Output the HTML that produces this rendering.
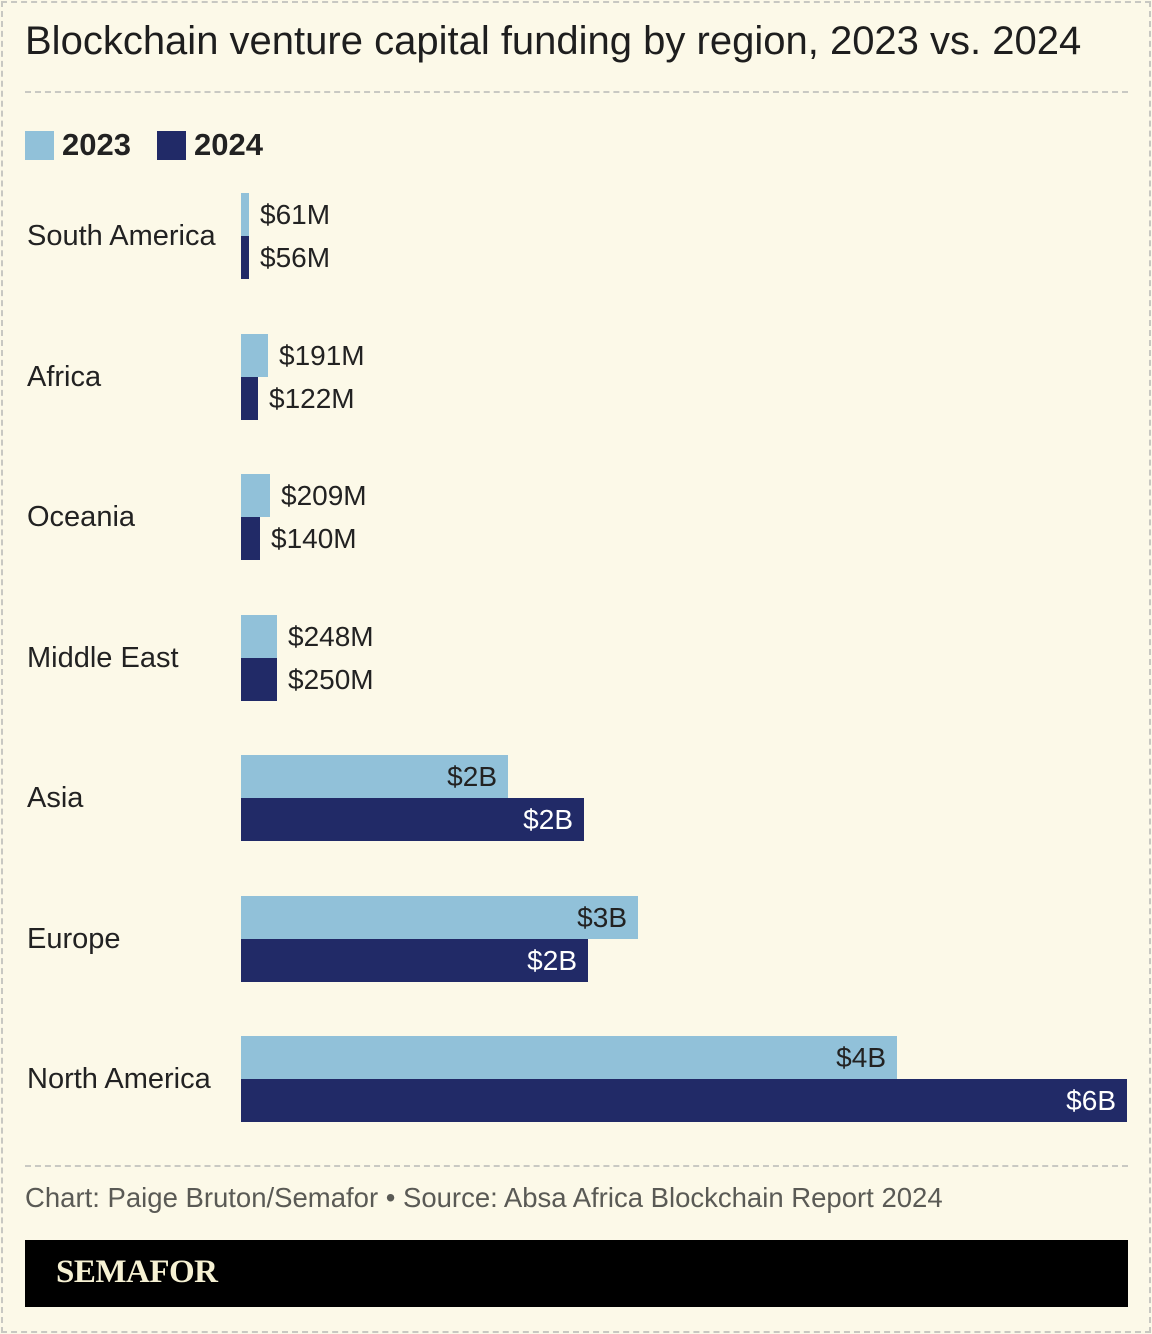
<!DOCTYPE html>
<html><head><meta charset="utf-8"><style>
*{margin:0;padding:0;box-sizing:border-box}
body{width:1152px;height:1334px;background:#fcf9e8;position:relative;overflow:hidden;font-family:"Liberation Sans",sans-serif;color:#222}
.border{position:absolute;left:1px;top:1px;width:1150px;height:1332px;border:2px dashed #c8c8c2}
.t{position:absolute;white-space:nowrap}
.hr{position:absolute;left:25px;width:1103px;border-top:2px dashed #c9c9c3}
.bar{position:absolute;left:241px;height:43px}
.a{background:#91c1d9}.b{background:#212a67}
.lab{position:absolute;font-size:28px;line-height:43px;white-space:nowrap}
.reg{position:absolute;left:27px;font-size:29px;line-height:40px;color:#222}
</style></head><body>
<div class="border"></div>
<div class="t" style="left:25px;top:18px;font-size:40px;line-height:46px;color:#1e1e1e">Blockchain venture capital funding by region, 2023 vs. 2024</div>
<div class="hr" style="top:91px"></div>
<div style="position:absolute;left:25px;top:131px;width:29px;height:29px;background:#91c1d9"></div>
<div class="t" style="left:62px;top:127px;font-size:31px;font-weight:bold;color:#222">2023</div>
<div style="position:absolute;left:157px;top:131px;width:29px;height:29px;background:#212a67"></div>
<div class="t" style="left:194px;top:127px;font-size:31px;font-weight:bold;color:#222">2024</div>

<div class="reg" style="top:216px">South America</div>
<div class="bar a" style="top:193px;width:8px"></div><div class="bar b" style="top:236px;width:8px"></div>
<div class="lab" style="left:260px;top:193px">$61M</div><div class="lab" style="left:260px;top:236px">$56M</div>

<div class="reg" style="top:357px">Africa</div>
<div class="bar a" style="top:334px;width:27px"></div><div class="bar b" style="top:377px;width:17px"></div>
<div class="lab" style="left:279px;top:334px">$191M</div><div class="lab" style="left:269px;top:377px">$122M</div>

<div class="reg" style="top:497px">Oceania</div>
<div class="bar a" style="top:474px;width:29px"></div><div class="bar b" style="top:517px;width:19px"></div>
<div class="lab" style="left:281px;top:474px">$209M</div><div class="lab" style="left:271px;top:517px">$140M</div>

<div class="reg" style="top:638px">Middle East</div>
<div class="bar a" style="top:615px;width:36px"></div><div class="bar b" style="top:658px;width:36px"></div>
<div class="lab" style="left:288px;top:615px">$248M</div><div class="lab" style="left:288px;top:658px">$250M</div>

<div class="reg" style="top:778px">Asia</div>
<div class="bar a" style="top:755px;width:267px"></div><div class="bar b" style="top:798px;width:343px"></div>
<div class="lab" style="left:241px;width:256px;text-align:right;top:755px;color:#222">$2B</div>
<div class="lab" style="left:241px;width:332px;text-align:right;top:798px;color:#fff">$2B</div>

<div class="reg" style="top:919px">Europe</div>
<div class="bar a" style="top:896px;width:397px"></div><div class="bar b" style="top:939px;width:347px"></div>
<div class="lab" style="left:241px;width:386px;text-align:right;top:896px;color:#222">$3B</div>
<div class="lab" style="left:241px;width:336px;text-align:right;top:939px;color:#fff">$2B</div>

<div class="reg" style="top:1059px">North America</div>
<div class="bar a" style="top:1036px;width:656px"></div><div class="bar b" style="top:1079px;width:886px"></div>
<div class="lab" style="left:241px;width:645px;text-align:right;top:1036px;color:#222">$4B</div>
<div class="lab" style="left:241px;width:875px;text-align:right;top:1079px;color:#fff">$6B</div>

<div class="hr" style="top:1165px"></div>
<div class="t" style="left:25px;top:1182px;font-size:27.5px;color:#5a5a55">Chart: Paige Bruton/Semafor • Source: Absa Africa Blockchain Report 2024</div>
<div style="position:absolute;left:25px;top:1240px;width:1103px;height:67px;background:#000"></div>
<div class="t" style="left:56px;top:1254px;font-family:'Liberation Serif',serif;font-weight:bold;font-size:33px;color:#f6f1d3;letter-spacing:-0.5px">SEMAFOR</div>
</body></html>
